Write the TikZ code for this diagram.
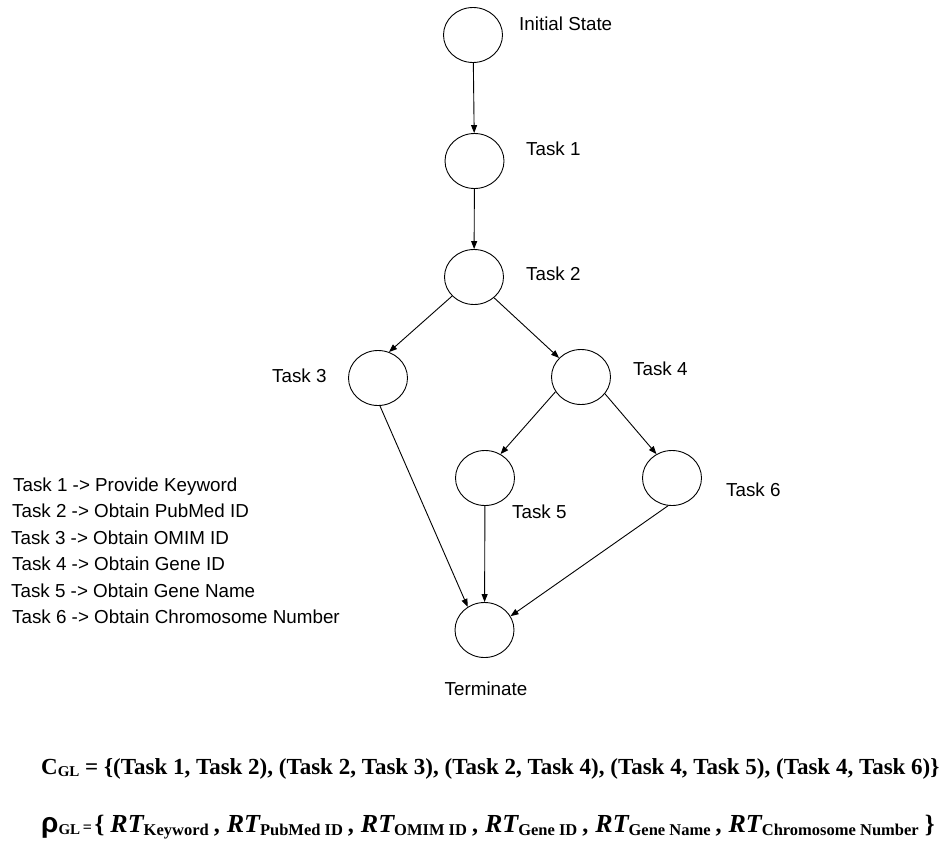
\documentclass[tikz,border=0pt]{standalone}
\usepackage{fontspec}
\setmainfont{Liberation Sans}
\newfontfamily\tnr{Liberation Serif}
\usetikzlibrary{shapes.geometric,arrows.meta}

% relation term with bold subscript
\newcommand\RTsub[1]{{\tnr\bfseries\itshape\fontsize{26}{26}\selectfont RT}\raisebox{-3pt}{\tnr\bfseries\fontsize{16.5}{17}\selectfont #1}}
% separator between relation terms
\newcommand\RTsep{\hspace{5pt}{\tnr\bfseries\fontsize{24}{24}\selectfont,}\hspace{7pt}}

\begin{document}
\begin{tikzpicture}[x=1pt,y=-1pt,
  state/.style={draw,ellipse,minimum width=59pt,minimum height=55pt,inner sep=0pt,line width=0.9pt},
  lbl/.style={anchor=base west,inner sep=0pt,font=\fontsize{18.8}{22}\selectfont},
  flow/.style={line width=0.9pt,-{Triangle[length=8pt,width=6pt]}},
  formula/.style={anchor=base west,inner sep=0pt}
]
\useasboundingbox (0,0) rectangle (947,841);

% states
\node[state] (init) at (473,35) {};
\node[state] (t1) at (474.5,161) {};
\node[state] (t2) at (474,277) {};
\node[state] (t3) at (378,378) {};
\node[state] (t4) at (581,377) {};
\node[state] (t5) at (485,478) {};
\node[state] (t6) at (672,478) {};
\node[state] (term) at (484.5,630) {};

% state labels
\node[lbl] (linit) at (519,30) {Initial State};
\node[lbl] (l1) at (526,155) {Task 1};
\node[lbl] (l2) at (526,280) {Task 2};
\node[lbl] (l3) at (272,382) {Task 3};
\node[lbl] (l4) at (633,375) {Task 4};
\node[lbl] (l5) at (512,518) {Task 5};
\node[lbl] (l6) at (726,496) {Task 6};
\node[lbl,anchor=base] (lterm) at (486,695) {Terminate};

% transitions
\draw[flow] (init) -- (t1);
\draw[flow] (t1) -- (t2);
\draw[flow] (t2.221) -- (t3.67);
\draw[flow] (t2.314) -- (t4.139);
\draw[flow] (t3.274) -- (term.126);
\draw[flow] (t4.210) -- (t5.57);
\draw[flow] (t4.325) -- (t6.123);
\draw[flow] (t5) -- (term);
\draw[flow] (t6.262) -- (term.28);

% legend
\node[lbl] (k1) at (13,491) {Task 1 -> Provide Keyword};
\node[lbl] (k2) at (12,517.5) {Task 2 -> Obtain PubMed ID};
\node[lbl] (k3) at (11,544) {Task 3 -> Obtain OMIM ID};
\node[lbl] (k4) at (12,570.5) {Task 4 -> Obtain Gene ID};
\node[lbl] (k5) at (11,597) {Task 5 -> Obtain Gene Name};
\node[lbl] (k6) at (12,623.5) {Task 6 -> Obtain Chromosome Number};

% control flow set
\node[formula] (cgl) at (41,774) {\tnr\bfseries\fontsize{23}{23}\selectfont
  C\raisebox{-2.5pt}{\fontsize{15}{15}\selectfont GL} = \{(Task 1, Task 2), (Task 2, Task 3), (Task 2, Task 4), (Task 4, Task 5), (Task 4, Task 6)\}};

% relation set
\node[formula] (rgl) at (41,832) {{\bfseries\fontsize{28}{28}\selectfont ρ}%
  {\tnr\bfseries\raisebox{-2pt}{\fontsize{15}{15}\selectfont GL}\fontsize{16}{16}\selectfont\,=\,}%
  {\tnr\bfseries\fontsize{25}{25}\selectfont\{}\hspace{6pt}\RTsub{Keyword}\RTsep
  \RTsub{PubMed ID}\RTsep
  \RTsub{OMIM ID}\RTsep
  \RTsub{Gene ID}\RTsep
  \RTsub{Gene Name}\RTsep
  \RTsub{Chromosome Number}\hspace{6pt}{\tnr\bfseries\fontsize{25}{25}\selectfont\}}};
\end{tikzpicture}
\end{document}
